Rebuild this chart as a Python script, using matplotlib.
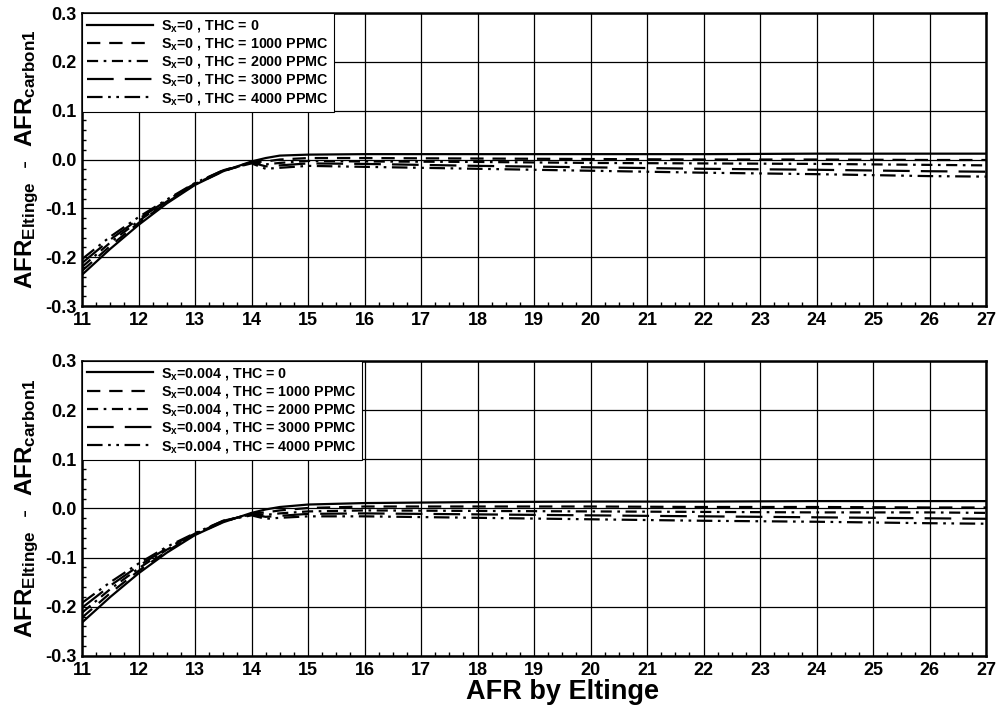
import matplotlib
matplotlib.use('Agg')
from matplotlib import pyplot as plt
from matplotlib.ticker import MultipleLocator, FormatStrFormatter

plt.rcParams['font.family'] = ['Liberation Sans', 'DejaVu Sans']
plt.rcParams['font.weight'] = 'bold'
plt.rcParams['mathtext.fontset'] = 'custom'
plt.rcParams['mathtext.rm'] = 'Liberation Sans:bold'
plt.rcParams['mathtext.it'] = 'Liberation Sans:bold'
plt.rcParams['mathtext.bf'] = 'Liberation Sans:bold'
plt.rcParams['axes.unicode_minus'] = False

afr = [11, 11.5, 12, 12.5, 13, 13.5, 14, 14.25, 14.5, 15, 16, 18, 20, 22, 24, 26, 27]

# S_x = 0
top_thc0 = [-0.236, -0.183, -0.134, -0.090, -0.052, -0.024, -0.004, 0.003, 0.008, 0.010, 0.011, 0.011, 0.011, 0.011, 0.012, 0.012, 0.012]
top_thc1000 = [-0.228, -0.177, -0.130, -0.088, -0.051, -0.024, -0.006, -0.004, 0.000, 0.003, 0.003, 0.002, 0.001, 0.000, 0.000, -0.001, -0.001]
top_thc2000 = [-0.220, -0.170, -0.126, -0.086, -0.050, -0.023, -0.006, -0.010, -0.007, -0.003, -0.004, -0.005, -0.007, -0.008, -0.009, -0.011, -0.012]
top_thc3000 = [-0.212, -0.164, -0.122, -0.084, -0.049, -0.022, -0.006, -0.014, -0.012, -0.008, -0.009, -0.013, -0.016, -0.019, -0.021, -0.024, -0.025]
top_thc4000 = [-0.204, -0.158, -0.118, -0.082, -0.048, -0.022, -0.008, -0.019, -0.017, -0.013, -0.015, -0.019, -0.023, -0.027, -0.030, -0.034, -0.035]

# S_x = 0.004
bot_thc0 = [-0.232, -0.180, -0.132, -0.090, -0.054, -0.028, -0.009, -0.002, 0.003, 0.008, 0.011, 0.013, 0.014, 0.014, 0.015, 0.015, 0.015]
bot_thc1000 = [-0.222, -0.172, -0.127, -0.087, -0.053, -0.027, -0.010, -0.008, -0.004, 0.001, 0.004, 0.004, 0.004, 0.003, 0.003, 0.002, 0.002]
bot_thc2000 = [-0.212, -0.164, -0.122, -0.084, -0.052, -0.026, -0.011, -0.013, -0.010, -0.006, -0.004, -0.005, -0.006, -0.007, -0.008, -0.008, -0.009]
bot_thc3000 = [-0.202, -0.157, -0.117, -0.081, -0.051, -0.025, -0.012, -0.017, -0.015, -0.011, -0.010, -0.012, -0.014, -0.016, -0.018, -0.020, -0.021]
bot_thc4000 = [-0.192, -0.150, -0.112, -0.078, -0.050, -0.025, -0.014, -0.021, -0.019, -0.016, -0.016, -0.019, -0.022, -0.025, -0.027, -0.030, -0.031]

thc_labels = ['THC = 0', 'THC = 1000 PPMC', 'THC = 2000 PPMC', 'THC = 3000 PPMC', 'THC = 4000 PPMC']
styles = ['-', (0, (6, 4)), (0, (5, 2.5, 1.2, 2.5)), (0, (12, 5)), (0, (7, 2.5, 1.2, 2.5, 1.2, 2.5))]

panels = [
    ('0', [top_thc0, top_thc1000, top_thc2000, top_thc3000, top_thc4000]),
    ('0.004', [bot_thc0, bot_thc1000, bot_thc2000, bot_thc3000, bot_thc4000]),
]

fig = plt.figure(figsize=(10.04, 7.11), dpi=100)
boxes = [[0.0817, 0.5696, 0.9004, 0.4121], [0.0817, 0.0774, 0.9004, 0.4149]]

for box, (sx, series) in zip(boxes, panels):
    ax = fig.add_axes(box)
    for vals, ls, lab in zip(series, styles, thc_labels):
        ax.plot(afr, vals, color='black', linestyle=ls, linewidth=1.6,
                label=r'$S_x$=' + sx + ' , ' + lab)
    ax.set_xlim(11, 27)
    ax.set_ylim(-0.3, 0.3)
    ax.xaxis.set_major_locator(MultipleLocator(1))
    ax.yaxis.set_major_locator(MultipleLocator(0.1))
    ax.yaxis.set_minor_locator(MultipleLocator(0.02))
    ax.xaxis.set_minor_locator(MultipleLocator(0.25))
    ax.yaxis.set_major_formatter(FormatStrFormatter('%.1f'))
    ax.grid(True, which='major', color='black', linewidth=0.9)
    ax.tick_params(which='both', direction='in', labelsize=13, width=1)
    ax.tick_params(which='major', length=0, pad=4)
    ax.tick_params(which='minor', length=3)
    for sp in ax.spines.values():
        sp.set_linewidth(1.8)
    for t in ax.get_xticklabels() + ax.get_yticklabels():
        t.set_fontweight('bold')
    ax.set_ylabel(r'$AFR_{Eltinge}$  -  $AFR_{carbon1}$', fontsize=17.5, labelpad=3)
    leg = ax.legend(loc='upper left', fontsize=10.3, handlelength=4.6, borderaxespad=0,
                    fancybox=False, edgecolor='black', framealpha=1,
                    labelspacing=0.15, borderpad=0.35, handletextpad=0.6)
    leg.get_frame().set_linewidth(0.8)

fig.text(0.56, 0.027, 'AFR by Eltinge', ha='center', va='center', fontsize=19.5, fontweight='bold')

fig.savefig('out.png', dpi=100)
